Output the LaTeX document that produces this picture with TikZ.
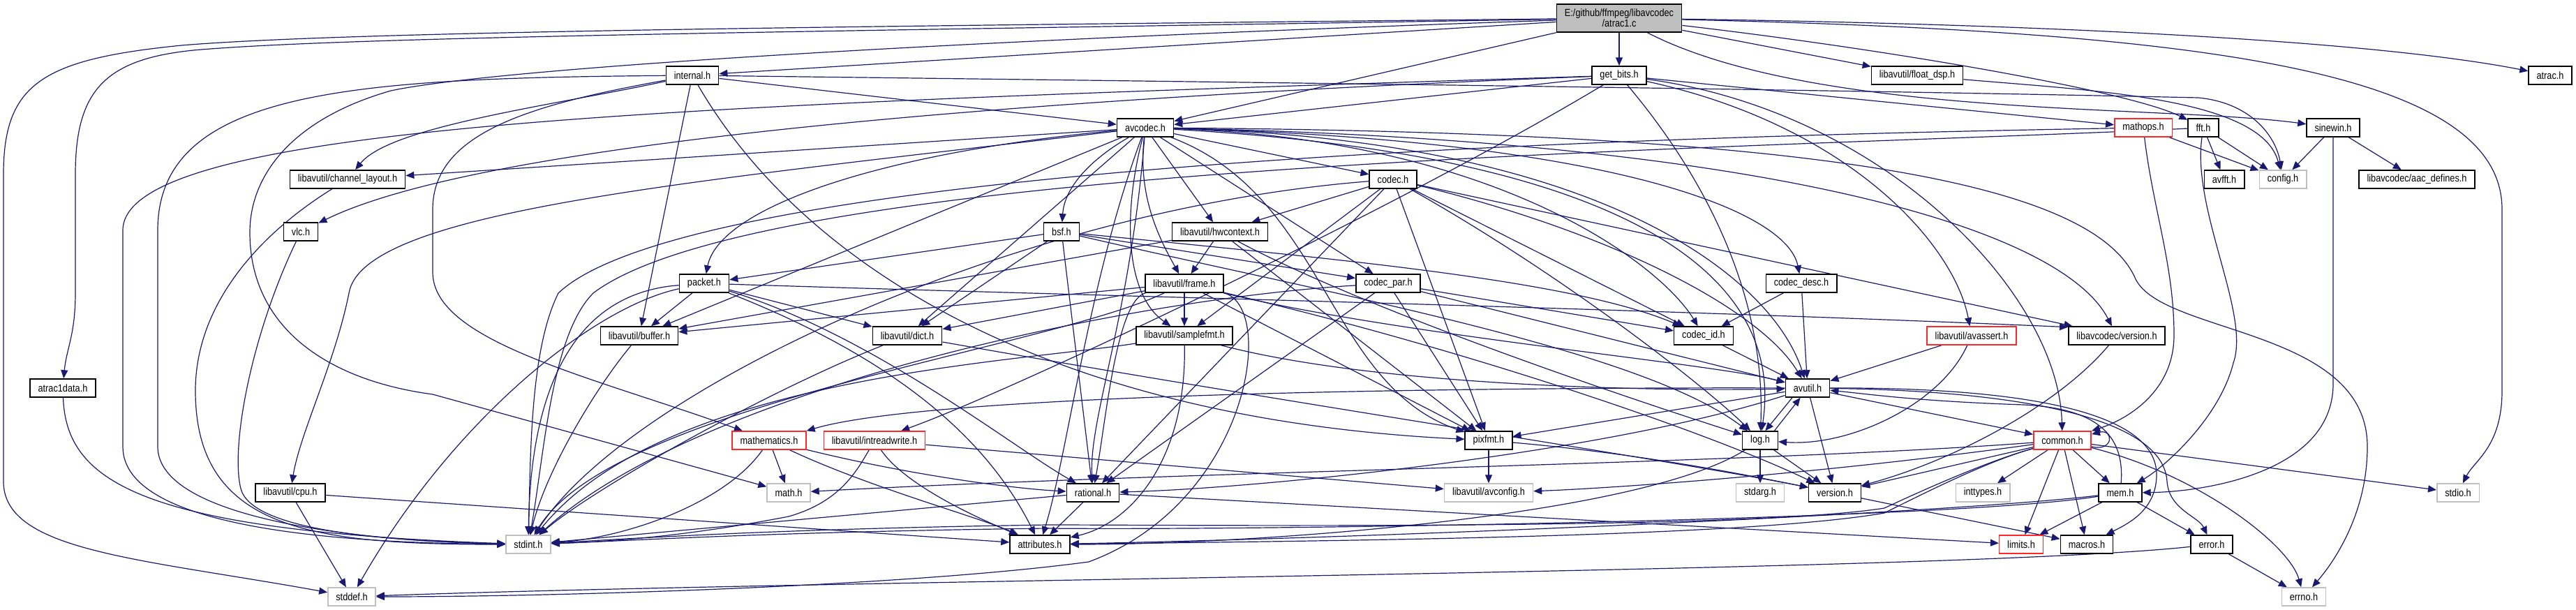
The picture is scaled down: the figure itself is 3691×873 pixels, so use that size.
\documentclass[tikz,border=0pt]{standalone}
\usepackage{fontspec}
\setmainfont{Liberation Sans}[FakeStretch=0.86]
\usetikzlibrary{arrows.meta,backgrounds}
\definecolor{edgeblue}{RGB}{25,25,112}
\definecolor{nodegrey}{RGB}{191,191,191}
\definecolor{nodered}{RGB}{255,40,40}
\begin{document}
\begin{tikzpicture}[x=1pt,y=-1pt,
  box/.style={draw=black, fill=white, text=black, line width=1.5pt, minimum height=26pt, inner xsep=11.5pt, inner ysep=0pt, font=\fontsize{14.8}{15}\selectfont},
  gbox/.style={box, draw=nodegrey},
  rbox/.style={box, draw=nodered},
  edg/.style={draw=edgeblue, line width=1.2pt, -{Triangle[length=12pt,width=10pt]}}]
\useasboundingbox (0,0) rectangle (3691,873);
% nodes
\node[box,fill=nodegrey,minimum height=40pt,align=center] (main) at (2320,26) {E:/github/ffmpeg/libavcodec\\/atrac1.c};
\node[box] (internal) at (992,108) {internal.h};
\node[box] (getbits) at (2320,108) {get\_bits.h};
\node[box] (floatdsp) at (2747,108) {libavutil/float\_dsp.h};
\node[box] (atrac) at (3654,108) {atrac.h};
\node[box] (avcodec) at (1641,183) {avcodec.h};
\node[rbox] (mathops) at (3071,183) {mathops.h};
\node[box] (fft) at (3157,183) {fft.h};
\node[box] (sinewin) at (3343,183) {sinewin.h};
\node[box] (chlayout) at (498,257) {libavutil/channel\_layout.h};
\node[box] (codec) at (1996,257) {codec.h};
\node[box] (avfft) at (3187,257) {avfft.h};
\node[gbox] (config) at (3271,257) {config.h};
\node[box] (aacdef) at (3463,257) {libavcodec/aac\_defines.h};
\node[box] (vlc) at (431,332) {vlc.h};
\node[box] (bsf) at (1521,332) {bsf.h};
\node[box] (hwctx) at (1748,332) {libavutil/hwcontext.h};
\node[box] (packet) at (1009,406) {packet.h};
\node[box] (frame) at (1697,406) {libavutil/frame.h};
\node[box] (codecpar) at (1989,406) {codec\_par.h};
\node[box] (codecdesc) at (2581,406) {codec\_desc.h};
\node[box] (buffer) at (916,481) {libavutil/buffer.h};
\node[box] (dict) at (1300,481) {libavutil/dict.h};
\node[box] (samplefmt) at (1697,481) {libavutil/samplefmt.h};
\node[box] (codecid) at (2441,481) {codec\_id.h};
\node[rbox] (avassert) at (2825,481) {libavutil/avassert.h};
\node[box] (lcversion) at (3033,481) {libavcodec/version.h};
\node[box] (atracdata) at (90,556) {atrac1data.h};
\node[box] (avutil) at (2590,556) {avutil.h};
\node[rbox] (mathem) at (1102,631) {mathematics.h};
\node[rbox] (intrw) at (1253,631) {libavutil/intreadwrite.h};
\node[box] (pixfmt) at (2133,631) {pixfmt.h};
\node[box] (log) at (2522,631) {log.h};
\node[rbox] (common) at (2955,631) {common.h};
\node[box] (cpu) at (416,706) {libavutil/cpu.h};
\node[gbox] (math) at (1130,706) {math.h};
\node[box] (rational) at (1566,706) {rational.h};
\node[gbox] (avconfig) at (2133,706) {libavutil/avconfig.h};
\node[gbox] (stdarg) at (2522,706) {stdarg.h};
\node[box] (version) at (2629,706) {version.h};
\node[gbox] (inttypes) at (2841,706) {inttypes.h};
\node[box] (mem) at (3038,706) {mem.h};
\node[gbox] (stdio) at (3522,706) {stdio.h};
\node[gbox] (stdint) at (757,780) {stdint.h};
\node[box] (attributes) at (1490,780) {attributes.h};
\node[rbox] (limits) at (2896,780) {limits.h};
\node[box] (macros) at (2990,780) {macros.h};
\node[box] (error) at (3169,780) {error.h};
\node[gbox] (stddef) at (504,855) {stddef.h};
\node[gbox] (errno) at (3301,855) {errno.h};

\begin{pgfonlayer}{background}
\fill[white] (0,0) rectangle (3691,873);
% main
\draw[edg] (main) -- (getbits);
\draw[edg] (main) -- (internal);
\draw[edg] (main) -- (avcodec);
\draw[edg] (main) -- (floatdsp);
\draw[edg] (main) .. controls (2700,70) and (3050,130) .. (fft);
\draw[edg] (main) .. controls (2600,170) and (3100,150) .. (sinewin);
\draw[edg] (main) .. controls (3000,36) and (3420,62) .. (atrac);
\draw[edg] (main) .. controls (3150,45) and (3585,100) .. (3585,300) -- (3585,560) .. controls (3585,640) and (3545,660) .. (stdio);
\draw[edg] (main) .. controls (1300,60) and (700,100) .. (560,130) .. controls (420,170) and (358,250) .. (358,333) .. controls (358,470) and (470,545) .. (620,565) -- (math);
\draw[edg] (main) .. controls (1200,38) and (500,45) .. (260,65) .. controls (60,85) and (5,120) .. (5,250) -- (5,690) .. controls (5,790) and (200,800) .. (stddef);
\draw[edg] (main) .. controls (1200,45) and (500,52) .. (277,72) .. controls (150,85) and (108,130) .. (108,250) -- (108,420) .. controls (108,480) and (95,500) .. (atracdata);
% internal
\draw[edg] (internal) -- (avcodec);
\draw[edg] (internal) .. controls (1800,118) and (2600,128) .. (3150,140) .. controls (3230,148) and (3262,200) .. (config);
\draw[edg] (internal) -- (buffer);
\draw[edg] (internal) .. controls (800,150) and (560,180) .. (chlayout);
\draw[edg] (internal) .. controls (760,150) and (620,190) .. (620,300) -- (620,390) .. controls (620,490) and (850,540) .. (mathem);
\draw[edg] (internal) .. controls (1150,380) and (1500,600) .. (pixfmt);
\draw[edg] (internal) .. controls (500,112) and (226,130) .. (226,330) -- (226,640) .. controls (226,740) and (500,775) .. (stdint);
% get_bits
\draw[edg] (getbits) -- (avcodec);
\draw[edg] (getbits) .. controls (1500,140) and (700,200) .. (vlc);
\draw[edg] (getbits) .. controls (1000,150) and (176,175) .. (176,330) -- (176,640) .. controls (176,760) and (500,778) .. (stdint);
\draw[edg] (getbits) -- (mathops);
\draw[edg] (getbits) .. controls (2700,160) and (2950,420) .. (common);
\draw[edg] (getbits) .. controls (2000,300) and (1450,560) .. (intrw);
\draw[edg] (getbits) .. controls (2440,250) and (2530,420) .. (log);
\draw[edg] (getbits) .. controls (2650,180) and (2800,350) .. (avassert);
% avcodec
\draw[edg] (avcodec) .. controls (2600,190) and (3000,260) .. (3060,400) .. controls (3100,480) and (3392,470) .. (3392,640) .. controls (3392,740) and (3340,810) .. (errno);
\draw[edg] (avcodec) .. controls (1610,300) and (1610,420) .. (samplefmt);
\draw[edg] (avcodec) .. controls (1560,400) and (1530,650) .. (attributes);
\draw[edg] (avcodec) .. controls (2300,200) and (2540,400) .. (avutil);
\draw[edg] (avcodec) -- (buffer);
\draw[edg] (avcodec) .. controls (1000,260) and (520,300) .. (500,420) .. controls (480,520) and (430,620) .. (cpu);
\draw[edg] (avcodec) -- (chlayout);
\draw[edg] (avcodec) -- (dict);
\draw[edg] (avcodec) .. controls (1630,280) and (1660,340) .. (frame);
\draw[edg] (avcodec) -- (hwctx);
\draw[edg] (avcodec) .. controls (2300,220) and (2560,380) .. (log);
\draw[edg] (avcodec) .. controls (1900,280) and (1900,550) .. (pixfmt);
\draw[edg] (avcodec) .. controls (1620,450) and (1560,600) .. (rational);
\draw[edg] (avcodec) .. controls (1560,230) and (1525,270) .. (bsf);
\draw[edg] (avcodec) -- (codec);
\draw[edg] (avcodec) .. controls (2300,200) and (2560,300) .. (codecdesc);
\draw[edg] (avcodec) -- (codecpar);
\draw[edg] (avcodec) .. controls (2150,200) and (2380,380) .. (codecid);
\draw[edg] (avcodec) .. controls (1250,220) and (1030,300) .. (packet);
\draw[edg] (avcodec) .. controls (2500,200) and (2950,320) .. (lcversion);
% float_dsp
\draw[edg] (floatdsp) .. controls (3000,130) and (3240,140) .. (config);
% small headers
\draw[edg] (chlayout) .. controls (380,330) and (280,430) .. (280,560) .. controls (280,760) and (450,780) .. (stdint);
\draw[edg] (vlc) .. controls (360,480) and (330,640) .. (345,700) .. controls (360,760) and (550,775) .. (stdint);
\draw[edg] (atracdata) .. controls (95,690) and (200,760) .. (stdint);
\draw[edg] (cpu) -- (stddef);
\draw[edg] (cpu) -- (attributes);
% mathops
\draw[edg] (mathops) -- (config);
\draw[edg] (mathops) .. controls (3085,300) and (3115,380) .. (3115,480) .. controls (3115,560) and (3050,600) .. (common);
\draw[edg] (mathops) .. controls (2400,195) and (1000,230) .. (800,420) .. controls (760,500) and (760,650) .. (stdint);
% fft
\draw[edg] (fft) .. controls (2500,215) and (1100,230) .. (850,420) .. controls (790,480) and (780,650) .. (stdint);
\draw[edg] (fft) -- (avfft);
\draw[edg] (fft) -- (config);
\draw[edg] (fft) .. controls (3140,300) and (3225,450) .. (3200,520) .. controls (3180,600) and (3100,670) .. (mem);
% sinewin
\draw[edg] (sinewin) -- (config);
\draw[edg] (sinewin) -- (aacdef);
\draw[edg] (sinewin) -- (3343,550) .. controls (3343,680) and (3150,705) .. (mem);
% codec
\draw[edg] (codec) .. controls (2300,330) and (2520,440) .. (avutil);
\draw[edg] (codec) -- (hwctx);
\draw[edg] (codec) .. controls (2250,400) and (2450,560) .. (log);
\draw[edg] (codec) -- (pixfmt);
\draw[edg] (codec) -- (rational);
\draw[edg] (codec) -- (samplefmt);
\draw[edg] (codec) -- (codecid);
\draw[edg] (codec) -- (lcversion);
\draw[edg] (codec) .. controls (1450,300) and (900,560) .. (stdint);
% bsf
\draw[edg] (bsf) -- (dict);
\draw[edg] (bsf) .. controls (1900,420) and (2350,500) .. (log);
\draw[edg] (bsf) -- (rational);
\draw[edg] (bsf) .. controls (1900,370) and (2250,400) .. (codecid);
\draw[edg] (bsf) -- (codecpar);
\draw[edg] (bsf) -- (packet);
% hwcontext
\draw[edg] (hwctx) -- (buffer);
\draw[edg] (hwctx) -- (frame);
\draw[edg] (hwctx) .. controls (1950,440) and (2300,560) .. (log);
\draw[edg] (hwctx) -- (pixfmt);
% codec_par
\draw[edg] (codecpar) .. controls (1600,430) and (1000,560) .. (stdint);
\draw[edg] (codecpar) -- (avutil);
\draw[edg] (codecpar) -- (rational);
\draw[edg] (codecpar) -- (pixfmt);
\draw[edg] (codecpar) -- (codecid);
% codec_desc
\draw[edg] (codecdesc) -- (avutil);
\draw[edg] (codecdesc) -- (codecid);
% packet
\draw[edg] (packet) .. controls (850,440) and (650,600) .. (stddef);
\draw[edg] (packet) .. controls (820,420) and (760,560) .. (stdint);
\draw[edg] (packet) .. controls (1300,520) and (1420,640) .. (attributes);
\draw[edg] (packet) -- (buffer);
\draw[edg] (packet) -- (dict);
\draw[edg] (packet) .. controls (1250,480) and (1450,640) .. (rational);
\draw[edg] (packet) .. controls (1600,425) and (2300,440) .. (lcversion.170);
% frame
\draw[edg] (frame.south east) .. controls (1830,440) and (1790,720) .. (1560,805) .. controls (1300,840) and (800,855) .. (stddef);
\draw[edg] (frame) .. controls (1500,500) and (880,580) .. (stdint);
\draw[edg] (frame) .. controls (2000,480) and (2450,520) .. (avutil);
\draw[edg] (frame) -- (buffer);
\draw[edg] (frame) -- (dict);
\draw[edg] (frame) .. controls (1600,430) and (1585,600) .. (rational);
\draw[edg] (frame) -- (samplefmt);
\draw[edg] (frame) -- (pixfmt);
\draw[edg] (frame) .. controls (2100,500) and (2450,620) .. (version);
% buffer, dict, samplefmt
\draw[edg] (buffer) .. controls (850,560) and (780,680) .. (stdint);
\draw[edg] (dict) .. controls (1100,560) and (850,700) .. (stdint);
\draw[edg] (dict) .. controls (1800,570) and (2400,660) .. (version);
\draw[edg] (samplefmt) .. controls (1450,520) and (950,540) .. (stdint);
\draw[edg] (samplefmt) .. controls (2000,560) and (2450,560) .. (avutil);
\draw[edg] (samplefmt) .. controls (1700,660) and (1620,750) .. (attributes);
% codec_id, avassert, lavc version
\draw[edg] (codecid) -- (avutil);
\draw[edg] (avassert) -- (avutil);
\draw[edg] (avassert) .. controls (2780,580) and (2650,640) .. (log);
\draw[edg] (lcversion) .. controls (2950,580) and (2800,660) .. (version);
% avutil
\draw[edg] (avutil) -- (common);
\draw[edg] (avutil) .. controls (2900,560) and (3100,600) .. (3105,690) .. controls (3108,730) and (3150,740) .. (error);
\draw[edg] (avutil) .. controls (2900,555) and (3090,590) .. (3090,680) .. controls (3090,730) and (3050,750) .. (macros);
\draw[edg] (avutil) .. controls (2300,650) and (1800,700) .. (rational);
\draw[edg] (avutil) -- (version);
\draw[edg] (avutil) .. controls (2200,555) and (1350,560) .. (mathem.north east);
\draw[edg] (avutil.212) -- (log.62);
\draw[edg] (avutil) -- (pixfmt);
% mathematics
\draw[edg] (mathem) .. controls (1040,720) and (900,770) .. (stdint);
\draw[edg] (mathem) -- (math);
\draw[edg] (mathem) .. controls (1250,700) and (1400,740) .. (attributes);
\draw[edg] (mathem) .. controls (1300,680) and (1450,700) .. (rational);
% intreadwrite
\draw[edg] (intrw) .. controls (1225,680) and (1200,720) .. (1130,740) .. controls (1000,765) and (900,775) .. (stdint);
\draw[edg] (intrw) -- (avconfig);
\draw[edg] (intrw) .. controls (1300,700) and (1420,750) .. (attributes);
% pixfmt
\draw[edg] (pixfmt) -- (avconfig);
\draw[edg] (pixfmt) .. controls (2350,650) and (2500,680) .. (version);
% log
\draw[edg] (log) -- (stdarg);
\draw[edg] (log) .. controls (2350,740) and (1800,780) .. (attributes);
\draw[edg] (log) -- (version);
\draw[edg] (log.34) -- (avutil.233);
% common
\draw[edg] (common) .. controls (3150,680) and (3280,780) .. (errno);
\draw[edg] (common) -- (inttypes);
\draw[edg] (common) -- (limits);
\draw[edg] (common) .. controls (2500,665) and (1700,675) .. (math);
\draw[edg] (common) .. controls (2850,660) and (2760,700) .. (2700,728) .. controls (2500,760) and (1700,752) .. (1500,752) .. controls (1100,758) and (900,772) .. (stdint);
\draw[edg] (common) -- (stdio);
\draw[edg] (common) .. controls (2850,660) and (2760,705) .. (2700,735) .. controls (2500,770) and (1900,775) .. (attributes);
\draw[edg] (common) -- (macros);
\draw[edg] (common) -- (version);
\draw[edg] (common) .. controls (2600,680) and (2300,700) .. (avconfig);
\draw[edg] (common) -- (mem);
\draw[edg] (common.-12) .. controls +(32,8) and +(32,-8) .. (common.12);
% rational, version, mem, error
\draw[edg] (rational) -- (stdint);
\draw[edg] (rational) -- (limits);
\draw[edg] (rational) -- (attributes);
\draw[edg] (version) -- (macros);
\draw[edg] (mem) -- (limits);
\draw[edg] (mem) -- (error);
\draw[edg] (mem) .. controls (3045,620) and (3000,585) .. (2900,580) .. controls (2750,575) and (2680,565) .. (avutil);
\draw[edg] (mem) .. controls (2800,745) and (1800,760) .. (1500,757) .. controls (1100,762) and (900,775) .. (stdint);
\draw[edg] (mem) .. controls (2800,735) and (2000,770) .. (attributes);
\draw[edg] (error) -- (errno);
\draw[edg] (error) .. controls (2800,820) and (1200,830) .. (stddef);
\end{pgfonlayer}
\end{tikzpicture}
\end{document}
